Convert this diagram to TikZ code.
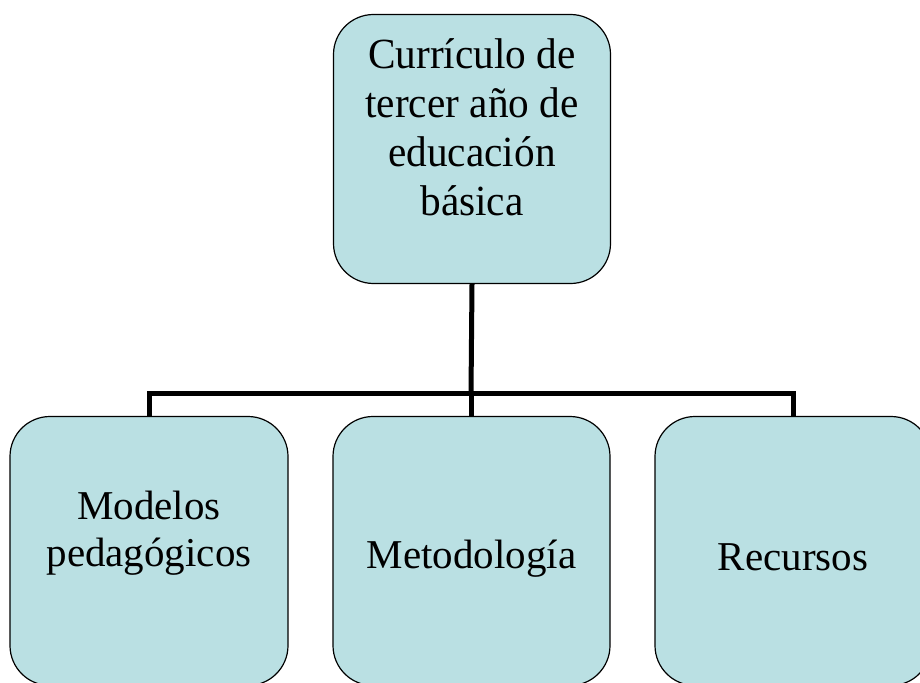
\documentclass[tikz,border=0pt]{standalone}
\usepackage{fontspec}
\setmainfont{Liberation Serif}
\newfontfamily\narrowfont[FakeStretch=0.96]{Liberation Serif}
\usetikzlibrary{positioning}
\definecolor{boxfill}{RGB}{186,224,227}

\begin{document}
\begin{tikzpicture}[x=1pt, y=-1pt,
        topic/.style={draw=black, line width=1.2pt, fill=boxfill, rounded corners=40pt,
            minimum width=277pt, minimum height=269pt, align=center, inner sep=0pt,
            font=\fontsize{41}{47}\selectfont, text depth=0pt},
        branch/.style={line width=5pt, draw=black}]
    \useasboundingbox (0,0) rectangle (920,682);
    \clip (0,0) rectangle (920,682);
    \node[topic, font=\narrowfont\fontsize{43}{49}\selectfont, text height=132pt]
        (curr) at (472,149) {Currículo de\\tercer año de\\educación\\básica};
    \node[topic, minimum width=278pt, text height=30pt] (mod) at (149,551) {Modelos\\pedagógicos};
    \node[topic, text height=34pt] (met) at (471.5,551) {Metodología};
    \node[topic, minimum width=276pt, text height=38pt] (rec) at (793,551) {Recursos};
    \coordinate (bar) at (471,393);
    \draw[branch] (curr.south) -- (bar);
    \foreach \n in {mod,met,rec}{
        \draw[branch] (bar) -| (\n.north);
    }
\end{tikzpicture}
\end{document}
